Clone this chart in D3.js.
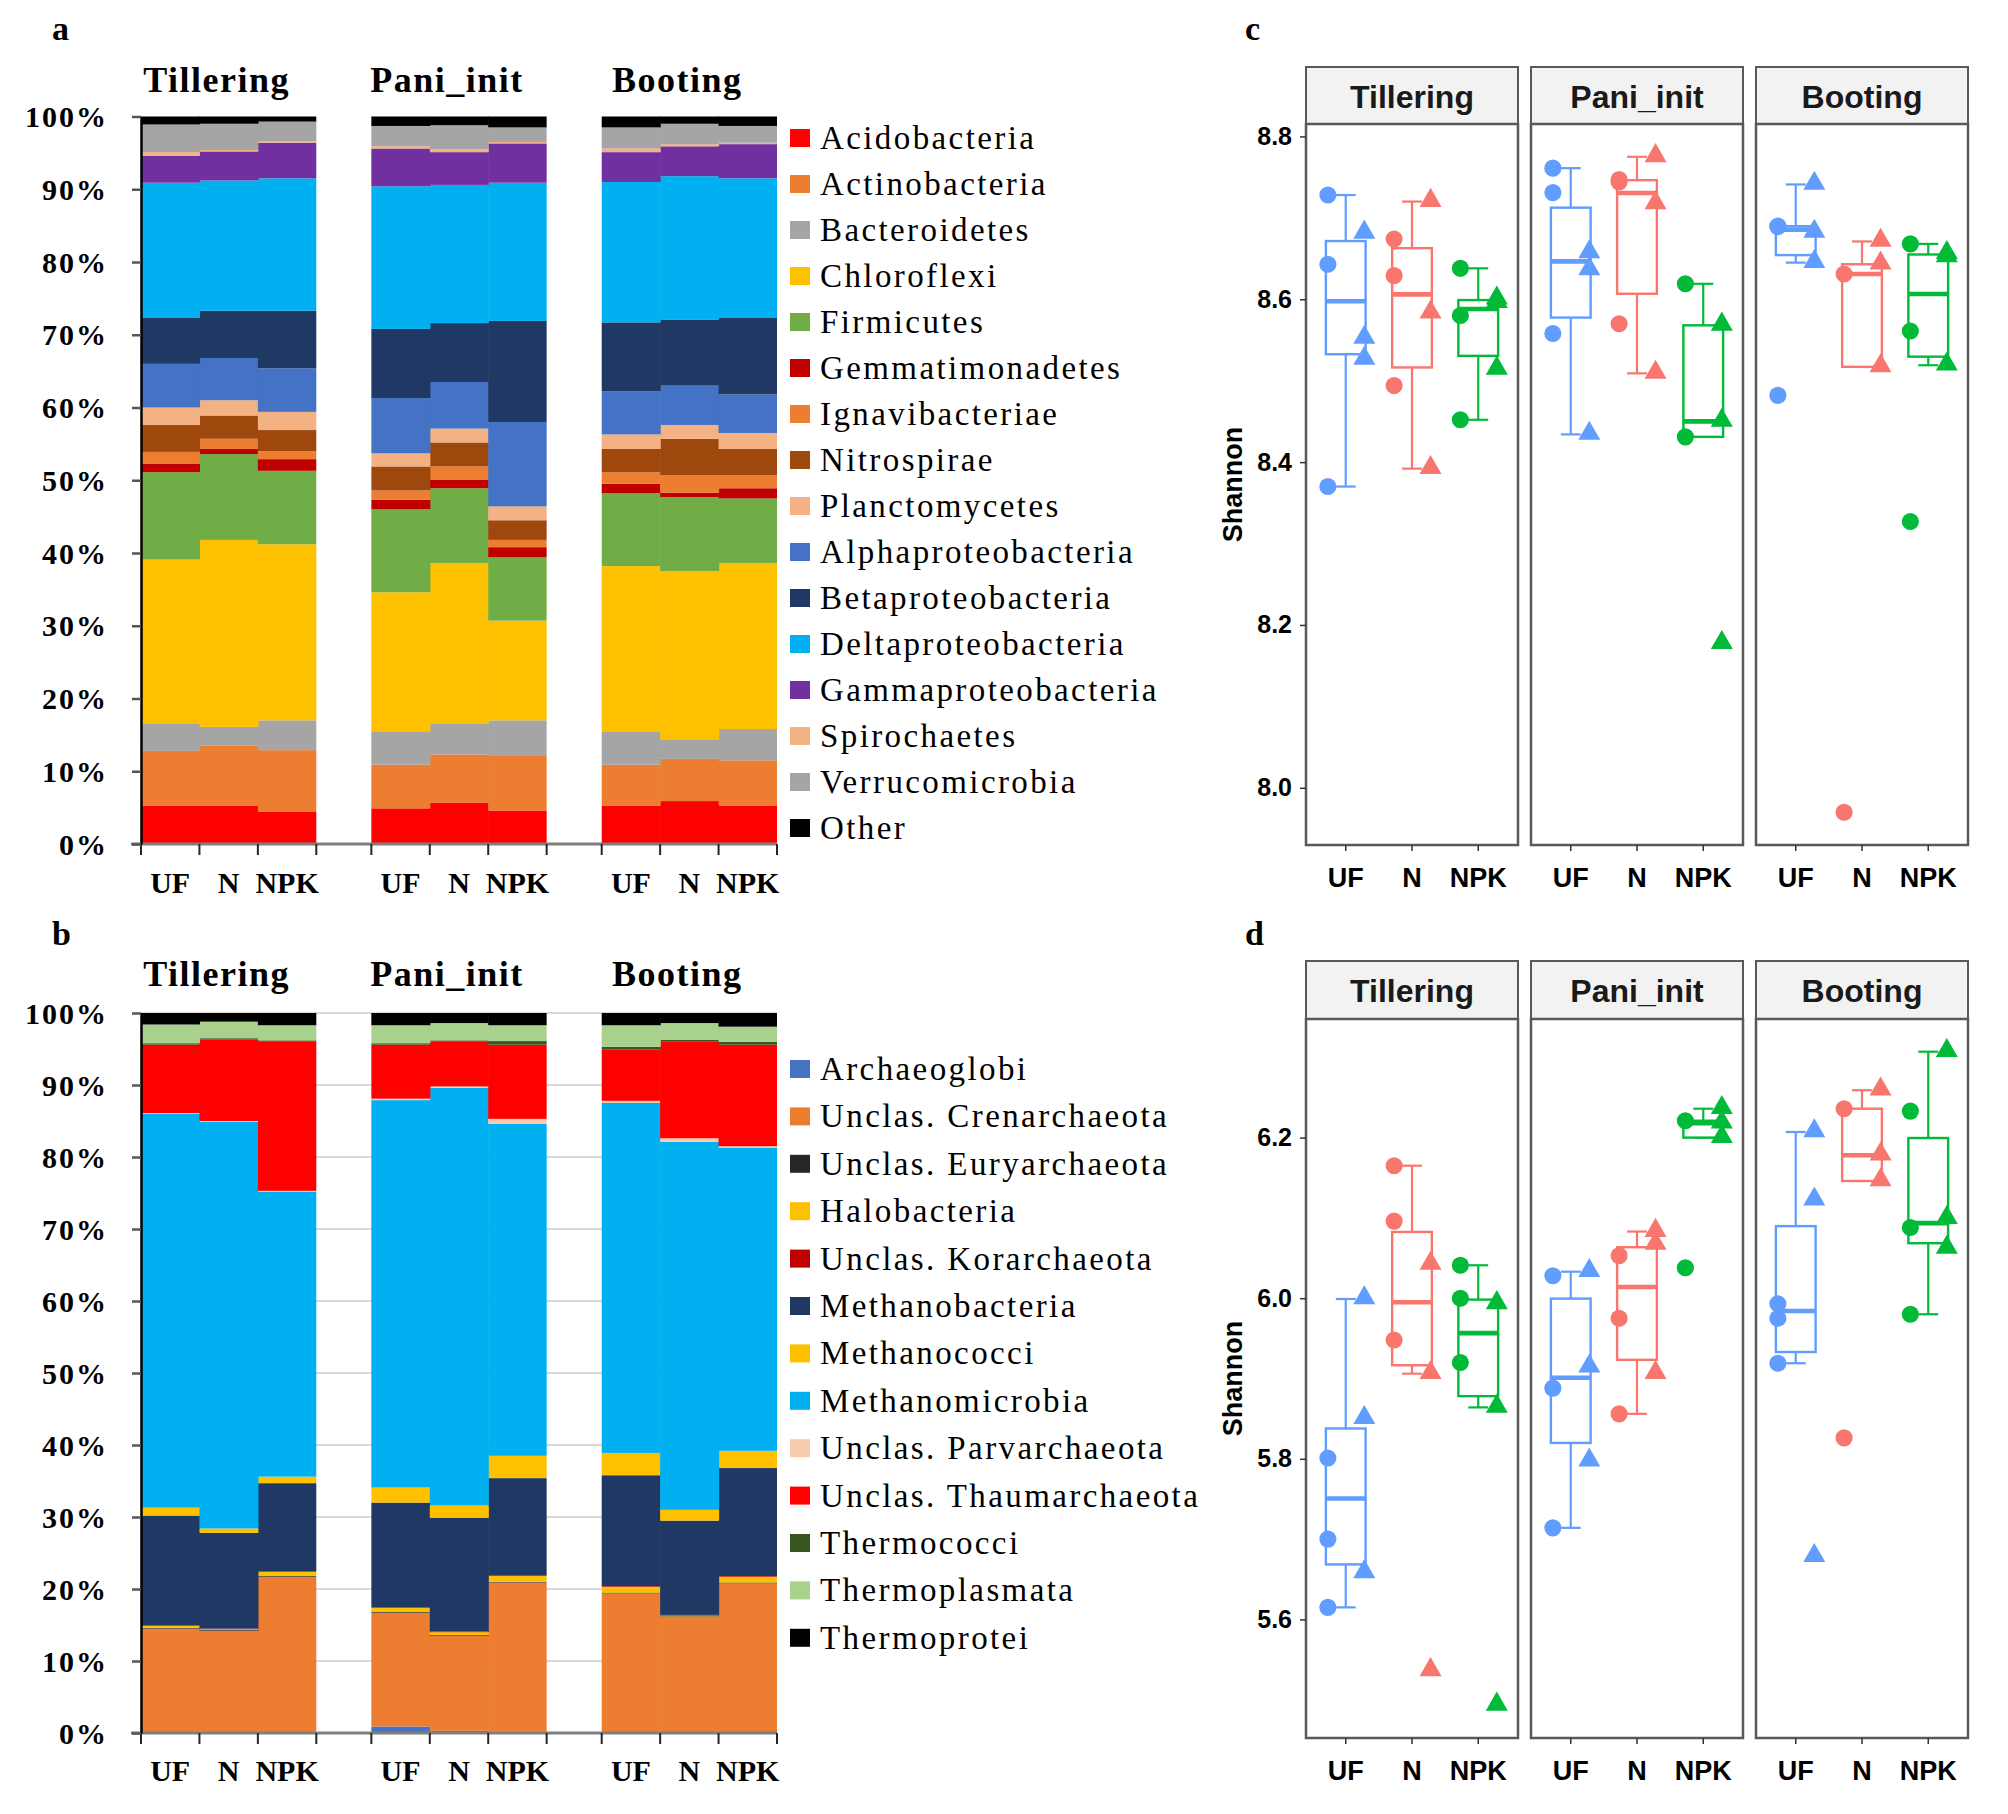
<!DOCTYPE html>
<html><head><meta charset="utf-8">
<script src="https://cdn.jsdelivr.net/npm/d3@7"></script>
<style>body{margin:0;background:#fff}</style>
</head><body>
<svg id="chart" width="2008" height="1814" xmlns="http://www.w3.org/2000/svg"></svg>
<script>
// ---------------- DATA ----------------
const stages = ["Tillering", "Pani_init", "Booting"];
const treatments = ["UF", "N", "NPK"];

const bacTaxa = ["Acidobacteria","Actinobacteria","Bacteroidetes","Chloroflexi","Firmicutes","Gemmatimonadetes","Ignavibacteriae","Nitrospirae","Planctomycetes","Alphaproteobacteria","Betaproteobacteria","Deltaproteobacteria","Gammaproteobacteria","Spirochaetes","Verrucomicrobia","Other"];
const bacColors = ["#FF0000","#ED7D31","#A5A5A5","#FFC000","#70AD47","#C00000","#ED7D31","#9E480E","#F4B183","#4472C4","#203864","#00B0F0","#7030A0","#F4B183","#A5A5A5","#000000"];
// relative abundance (%) per treatment UF, N, NPK
const bacTillering = [
  [5.3, 7.5, 3.7, 22.6, 12.0, 1.2, 1.6, 3.7, 2.4, 6.0, 6.3, 18.6, 3.7, 0.5, 3.8, 1.1],
  [5.3, 8.2, 2.6, 25.7, 11.8, 0.7, 1.4, 3.2, 2.1, 5.8, 6.5, 17.9, 4.0, 0.2, 3.6, 1.0],
  [4.4, 8.5, 4.1, 24.2, 10.1, 1.6, 1.1, 2.9, 2.5, 6.0, 7.9, 18.2, 4.9, 0.2, 2.7, 0.7]];
const bacPaniInit = [
  [4.9, 6.0, 4.6, 19.1, 11.4, 1.3, 1.3, 3.3, 1.8, 7.6, 9.5, 19.6, 5.2, 0.3, 2.8, 1.3],
  [5.7, 6.6, 4.2, 22.1, 10.3, 1.2, 1.8, 3.3, 1.9, 6.4, 8.1, 19.0, 4.5, 0.4, 3.3, 1.2],
  [4.6, 7.5, 4.9, 13.7, 8.7, 1.4, 1.0, 2.7, 1.9, 11.6, 13.9, 19.0, 5.4, 0.2, 2.0, 1.5]];
const bacBooting = [
  [5.3, 5.6, 4.6, 22.7, 10.0, 1.3, 1.6, 3.2, 2.0, 5.9, 9.5, 19.3, 4.1, 0.5, 2.9, 1.5],
  [5.9, 5.8, 2.7, 23.1, 10.2, 0.6, 2.4, 5.0, 1.9, 5.4, 9.1, 19.7, 4.1, 0.3, 2.8, 1.0],
  [5.3, 6.2, 4.3, 22.8, 8.9, 1.4, 1.8, 3.6, 2.2, 5.3, 10.5, 19.2, 4.7, 0.2, 2.3, 1.3]];

const arcTaxa = ["Archaeoglobi","Unclas. Crenarchaeota","Unclas. Euryarchaeota","Halobacteria","Unclas. Korarchaeota","Methanobacteria","Methanococci","Methanomicrobia","Unclas. Parvarchaeota","Unclas. Thaumarchaeota","Thermococci","Thermoplasmata","Thermoprotei"];
const arcColors = ["#4472C4","#ED7D31","#262626","#FFC000","#C00000","#203864","#FFC000","#00B0F0","#F8CBAD","#FF0000","#375623","#A9D18E","#000000"];
const arcTillering = [
  [0.0, 14.5, 0.1, 0.3, 0.1, 15.2, 1.1, 54.7, 0.1, 9.5, 0.2, 2.6, 1.6],
  [0.0, 14.2, 0.1, 0.1, 0.1, 13.3, 0.6, 56.5, 0.1, 11.3, 0.2, 2.3, 1.2],
  [0.0, 21.7, 0.1, 0.6, 0.1, 12.2, 0.9, 39.6, 0.1, 20.7, 0.2, 2.1, 1.7]];
const arcPaniInit = [
  [0.9, 15.8, 0.1, 0.6, 0.1, 14.5, 2.1, 53.8, 0.2, 7.5, 0.2, 2.5, 1.7],
  [0.3, 13.2, 0.1, 0.4, 0.1, 15.8, 1.7, 58.0, 0.2, 6.2, 0.2, 2.4, 1.4],
  [0.2, 20.7, 0.1, 0.8, 0.1, 13.5, 3.1, 46.1, 0.7, 10.3, 0.5, 2.2, 1.7]];
const arcBooting = [
  [0.1, 19.3, 0.1, 0.8, 0.1, 15.4, 3.1, 48.6, 0.3, 7.1, 0.4, 3.0, 1.7],
  [0.1, 16.0, 0.1, 0.1, 0.1, 13.1, 1.5, 51.1, 0.5, 13.4, 0.3, 2.3, 1.4],
  [0.1, 20.7, 0.1, 0.8, 0.1, 15.0, 2.4, 42.1, 0.2, 14.1, 0.4, 2.1, 1.9]];

// Shannon index: [treatment, shape, value]
const bacShannonTillering = [
  ["UF","circle",8.728],["UF","circle",8.643],["UF","circle",8.370],
  ["UF","triangle",8.681],["UF","triangle",8.552],["UF","triangle",8.526],
  ["N","circle",8.674],["N","circle",8.629],["N","circle",8.494],
  ["N","triangle",8.720],["N","triangle",8.583],["N","triangle",8.392],
  ["NPK","circle",8.638],["NPK","circle",8.580],["NPK","circle",8.452],
  ["NPK","triangle",8.600],["NPK","triangle",8.596],["NPK","triangle",8.514]];
const bacShannonPaniInit = [
  ["UF","circle",8.761],["UF","circle",8.731],["UF","circle",8.558],
  ["UF","triangle",8.657],["UF","triangle",8.636],["UF","triangle",8.434],
  ["N","circle",8.747],["N","circle",8.744],["N","circle",8.570],
  ["N","triangle",8.775],["N","triangle",8.717],["N","triangle",8.509],
  ["NPK","circle",8.619],["NPK","circle",8.431],
  ["NPK","triangle",8.568],["NPK","triangle",8.450],["NPK","triangle",8.177]];
const bacShannonBooting = [
  ["UF","circle",8.690],["UF","circle",8.689],["UF","circle",8.482],
  ["UF","triangle",8.741],["UF","triangle",8.682],["UF","triangle",8.645],
  ["N","circle",8.631],["N","circle",7.970],
  ["N","triangle",8.671],["N","triangle",8.643],["N","triangle",8.517],
  ["NPK","circle",8.668],["NPK","circle",8.561],["NPK","circle",8.327],
  ["NPK","triangle",8.656],["NPK","triangle",8.652],["NPK","triangle",8.519]];

const arcShannonTillering = [
  ["UF","circle",5.801],["UF","circle",5.700],["UF","circle",5.615],
  ["UF","triangle",5.999],["UF","triangle",5.850],["UF","triangle",5.658],
  ["N","circle",6.165],["N","circle",6.096],["N","circle",5.948],
  ["N","triangle",6.042],["N","triangle",5.906],["N","triangle",5.536],
  ["NPK","circle",6.041],["NPK","circle",6.000],["NPK","circle",5.920],
  ["NPK","triangle",5.993],["NPK","triangle",5.864],["NPK","triangle",5.493]];
const arcShannonPaniInit = [
  ["UF","circle",6.028],["UF","circle",5.888],["UF","circle",5.714],
  ["UF","triangle",6.033],["UF","triangle",5.914],["UF","triangle",5.797],
  ["N","circle",6.053],["N","circle",5.975],["N","circle",5.856],
  ["N","triangle",6.083],["N","triangle",6.067],["N","triangle",5.906],
  ["NPK","circle",6.221],["NPK","circle",6.038],
  ["NPK","triangle",6.236],["NPK","triangle",6.218],["NPK","triangle",6.200]];
const arcShannonBooting = [
  ["UF","circle",5.993],["UF","circle",5.975],["UF","circle",5.919],
  ["UF","triangle",6.207],["UF","triangle",6.122],["UF","triangle",5.678],
  ["N","circle",6.236],["N","circle",5.826],
  ["N","triangle",6.259],["N","triangle",6.178],["N","triangle",6.146],
  ["NPK","circle",6.233],["NPK","circle",6.088],["NPK","circle",5.980],
  ["NPK","triangle",6.307],["NPK","triangle",6.099],["NPK","triangle",6.062]];

const bacShannonTicks = [8.0, 8.2, 8.4, 8.6, 8.8];
const arcShannonTicks = [5.6, 5.8, 6.0, 6.2];
const trtColors = {UF: "#619CFF", N: "#F8766D", NPK: "#00BA38"};

// ---------------- DRAWING ----------------
const svg = d3.select("#chart");
svg.append("rect").attr("width", 2008).attr("height", 1814).attr("fill", "#fff");
const serif = "'Liberation Serif','Times New Roman',serif";
const sans = "'Liberation Sans',Arial,Helvetica,sans-serif";

function label(x, y, s, size, opts = {}) {
  return svg.append("text").attr("x", x).attr("y", y).text(s)
    .attr("font-family", opts.family || serif).attr("font-size", size)
    .attr("font-weight", opts.weight || "bold")
    .attr("text-anchor", opts.anchor || "start")
    .attr("letter-spacing", opts.ls || 0)
    .attr("fill", opts.fill || "#000");
}

const xStage = d3.scaleBand().domain(stages).range([141, 777]).paddingInner(0.239).paddingOuter(0);
const xTrt = d3.scaleBand().domain(treatments).range([0, xStage.bandwidth()]).padding(0);

function stackedPanel(cfg) {
  const y = d3.scaleLinear([0, 100], [cfg.y0, cfg.y100]);
  const g = svg.append("g");
  if (cfg.grid) {
    g.append("g").selectAll("line").data(d3.range(10, 101, 10)).join("line")
      .attr("x1", 141).attr("x2", 777).attr("y1", d => y(d)).attr("y2", d => y(d))
      .attr("stroke", "#D9D9D9").attr("stroke-width", 2);
  }
  const rows = [];
  stages.forEach((s, i) => treatments.forEach((t, j) => {
    const r = {stage: s, trt: t};
    cfg.taxa.forEach((k, m) => r[k] = cfg.data[i][j][m]);
    rows.push(r);
  }));
  const series = d3.stack().keys(cfg.taxa)(rows);
  g.append("g").selectAll("g").data(series).join("g")
    .attr("fill", (d, i) => cfg.colors[i])
    .selectAll("rect").data(d => d).join("rect")
    .attr("x", d => xStage(d.data.stage) + xTrt(d.data.trt))
    .attr("width", d => xTrt.bandwidth() + (d.data.trt === "NPK" ? 0 : 0.6))
    .attr("y", d => y(d[1]))
    .attr("height", d => Math.max(0, y(d[0]) - y(d[1])));

  // bottom axis
  g.append("line").attr("x1", 131).attr("x2", 777).attr("y1", cfg.y0).attr("y2", cfg.y0)
    .attr("stroke", "#7F7F7F").attr("stroke-width", 3);
  const tickXs = [];
  stages.forEach(s => [0, 1, 2, 3].forEach(k => tickXs.push(xStage(s) + k * xTrt.step())));
  g.append("g").selectAll("line").data(tickXs).join("line")
    .attr("x1", d => d).attr("x2", d => d).attr("y1", cfg.y0).attr("y2", cfg.y0 + 11)
    .attr("stroke", "#262626").attr("stroke-width", 2);

  // left axis
  const ax = d3.axisLeft(y).tickValues(d3.range(0, 101, 10)).tickFormat(d => d + "%")
    .tickSize(9).tickSizeOuter(0).tickPadding(24);
  const ag = g.append("g").attr("transform", "translate(141,0)").call(ax);
  ag.select(".domain").attr("stroke", "#000").attr("stroke-width", 2.5);
  ag.selectAll(".tick line").attr("stroke", "#555").attr("stroke-width", 2.5);
  ag.selectAll(".tick text").attr("font-family", serif).attr("font-size", 30)
    .attr("font-weight", "bold").attr("fill", "#000").attr("letter-spacing", 2)
    .attr("dy", "0.34em");

  // category labels
  stages.forEach(s => treatments.forEach(t => {
    label(xStage(s) + xTrt(t) + xTrt.bandwidth() / 2, cfg.labelY, t, 30, {anchor: "middle"});
  }));
  // stage titles
  stages.forEach(s => label(xStage(s) + xStage.bandwidth() / 2 - 12, cfg.titleY, s, 36, {anchor: "middle", ls: 1.5}));

  // legend
  cfg.taxa.forEach((k, i) => {
    const cy = cfg.legY0 + i * cfg.legStep;
    svg.append("rect").attr("x", 790).attr("y", cy - 9).attr("width", 20).attr("height", 18).attr("fill", cfg.colors[i]);
    label(820, cy + 11, k, 33, {weight: "normal", ls: 2.4});
  });
}

stackedPanel({taxa: bacTaxa, colors: bacColors, data: [bacTillering, bacPaniInit, bacBooting],
  y0: 844, y100: 116.5, grid: false, labelY: 893, titleY: 92, legY0: 138, legStep: 46.0});
stackedPanel({taxa: arcTaxa, colors: arcColors, data: [arcTillering, arcPaniInit, arcBooting],
  y0: 1733, y100: 1013, grid: true, labelY: 1781, titleY: 986, legY0: 1069, legStep: 47.4});

// ---------- Box panels ----------
const facet = d3.scaleBand().domain(stages).range([1306, 1968]).paddingInner(0.0578).paddingOuter(0);

function boxPanel(cfg) {
  const all = cfg.data.flat().map(d => d[2]);
  const ext = d3.extent(all);
  const pad = (ext[1] - ext[0]) * 0.05;
  const y = d3.scaleLinear([ext[0] - pad, ext[1] + pad], [cfg.bottom, cfg.top]);
  const frame = "#595959";
  stages.forEach((s, i) => {
    const x0 = facet(s), w = facet.bandwidth();
    const x = d3.scalePoint().domain(treatments).range([x0, x0 + w]).padding(0.6);
    const step = x.step();
    const g = svg.append("g");
    // strip
    g.append("rect").attr("x", x0).attr("y", cfg.stripTop).attr("width", w).attr("height", cfg.top - cfg.stripTop)
      .attr("fill", "#F2F2F2").attr("stroke", frame).attr("stroke-width", 2);
    g.append("text").attr("x", x0 + w / 2).attr("y", (cfg.stripTop + cfg.top) / 2 + 12).text(s)
      .attr("font-family", sans).attr("font-weight", "bold").attr("font-size", 32)
      .attr("text-anchor", "middle").attr("fill", "#1A1A1A");
    g.append("rect").attr("x", x0).attr("y", cfg.top).attr("width", w).attr("height", cfg.bottom - cfg.top).attr("fill", "#fff");

    const pts = cfg.data[i];
    treatments.forEach(t => {
      const vals = pts.filter(d => d[0] === t).map(d => d[2]).sort(d3.ascending);
      const q1 = d3.quantile(vals, 0.25), q2 = d3.quantile(vals, 0.5), q3 = d3.quantile(vals, 0.75);
      const iqr = q3 - q1;
      const lo = d3.min(vals.filter(v => v >= q1 - 1.5 * iqr));
      const hi = d3.max(vals.filter(v => v <= q3 + 1.5 * iqr));
      const cx = x(t), c = trtColors[t];
      const bw = step * 0.6, cw = step * 0.3;
      const bg = g.append("g").attr("stroke", c).attr("fill", "none");
      bg.append("line").attr("x1", cx).attr("x2", cx).attr("y1", y(hi)).attr("y2", y(lo)).attr("stroke-width", 2.2);
      bg.append("line").attr("x1", cx - cw / 2).attr("x2", cx + cw / 2).attr("y1", y(hi)).attr("y2", y(hi)).attr("stroke-width", 2.2);
      bg.append("line").attr("x1", cx - cw / 2).attr("x2", cx + cw / 2).attr("y1", y(lo)).attr("y2", y(lo)).attr("stroke-width", 2.2);
      bg.append("rect").attr("x", cx - bw / 2).attr("width", bw).attr("y", y(q3)).attr("height", y(q1) - y(q3))
        .attr("fill", "#fff").attr("stroke-width", 2.4);
      bg.append("line").attr("x1", cx - bw / 2).attr("x2", cx + bw / 2).attr("y1", y(q2)).attr("y2", y(q2)).attr("stroke-width", 4.6);
    });
    // points
    const dodge = {circle: -0.27, triangle: 0.28};
    g.append("g").selectAll("path").data(pts).join("path")
      .attr("d", d => d3.symbol(d[1] === "circle" ? d3.symbolCircle : d3.symbolTriangle, d[1] === "circle" ? 230 : 210)())
      .attr("transform", d => `translate(${x(d[0]) + dodge[d[1]] * step},${y(d[2]) + (d[1] === "triangle" ? -1 : 0)})`)
      .attr("fill", d => trtColors[d[0]]);

    // panel border
    g.append("rect").attr("x", x0).attr("y", cfg.top).attr("width", w).attr("height", cfg.bottom - cfg.top)
      .attr("fill", "none").attr("stroke", frame).attr("stroke-width", 2.5);
    // x ticks & labels
    treatments.forEach(t => {
      g.append("line").attr("x1", x(t)).attr("x2", x(t)).attr("y1", cfg.bottom).attr("y2", cfg.bottom + 6)
        .attr("stroke", "#333").attr("stroke-width", 1.5);
      g.append("text").attr("x", x(t)).attr("y", cfg.labelY).text(t)
        .attr("font-family", sans).attr("font-weight", "bold").attr("font-size", 27)
        .attr("text-anchor", "middle").attr("fill", "#000");
    });
    if (i === 0) {
      const ax = d3.axisLeft(y).tickValues(cfg.ticks).tickFormat(d3.format(".1f")).tickSize(6).tickSizeOuter(0).tickPadding(8);
      const ag = g.append("g").attr("transform", `translate(${x0},0)`).call(ax);
      ag.select(".domain").remove();
      ag.selectAll(".tick line").attr("stroke", "#333").attr("stroke-width", 1.5);
      ag.selectAll(".tick text").attr("font-family", sans).attr("font-weight", "bold").attr("font-size", 25).attr("fill", "#000");
    }
  });
  svg.append("text").attr("transform", `translate(1242,${(cfg.top + cfg.bottom) / 2}) rotate(-90)`)
    .text("Shannon").attr("font-family", sans).attr("font-weight", "bold").attr("font-size", 27)
    .attr("text-anchor", "middle").attr("fill", "#000");
}

boxPanel({data: [bacShannonTillering, bacShannonPaniInit, bacShannonBooting], ticks: bacShannonTicks,
  stripTop: 67, top: 124, bottom: 845, labelY: 887});
boxPanel({data: [arcShannonTillering, arcShannonPaniInit, arcShannonBooting], ticks: arcShannonTicks,
  stripTop: 961, top: 1019, bottom: 1738, labelY: 1780});

// panel letters
label(52, 40, "a", 34);
label(52, 945, "b", 34);
label(1245, 40, "c", 34);
label(1245, 945, "d", 34);
</script>
</body></html>
